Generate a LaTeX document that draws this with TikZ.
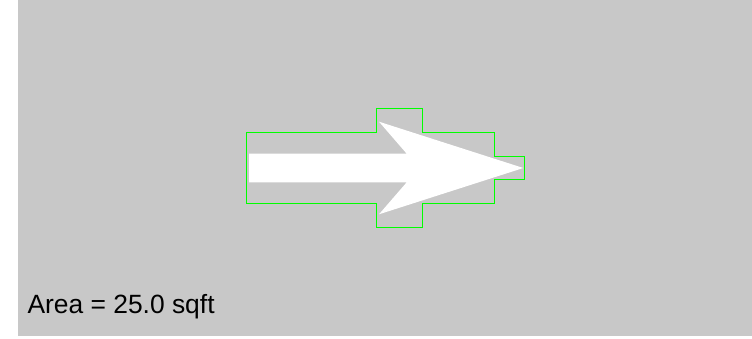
\documentclass[tikz,border=0pt]{standalone}
\usepackage{fontspec}
\setmainfont{Liberation Sans}
\definecolor{bggray}{RGB}{200,200,200}
\definecolor{outline}{RGB}{0,255,0}
\tikzset{
  outlinebox/.style={draw=outline, line width=1.1pt, line join=miter},
  arrowshape/.style={fill=white, draw=none},
  arealabel/.style={inner sep=0pt, anchor=base west, font=\fontsize{26.4}{30}\selectfont, text=black}
}
\begin{document}
\begin{tikzpicture}[x=1pt, y=-1pt]
  \useasboundingbox (0,0) rectangle (752,339);
  \fill[white] (0,0) rectangle (752,339);
  \fill[bggray] (18,0) rectangle (752,336);
  % white arrow
  \fill[arrowshape] (249,153.7) -- (406.7,153.7) -- (379,121.7) -- (523.3,168) -- (379,214.3) -- (406.7,182.3) -- (249,182.3) -- cycle;
  % green outline
  \draw[outlinebox] (246.5,132.5) -- (376.5,132.5) -- (376.5,108.5) -- (422.5,108.5) -- (422.5,132.5) -- (494.5,132.5) -- (494.5,156.5) -- (524.5,156.5) -- (524.5,179.5) -- (494.5,179.5) -- (494.5,203.5) -- (422.5,203.5) -- (422.5,227.5) -- (376.5,227.5) -- (376.5,203.5) -- (246.5,203.5) -- cycle;
  \node[arealabel] (area) at (27.3,313.7) {Area = 25.0 sqft};
\end{tikzpicture}
\end{document}
